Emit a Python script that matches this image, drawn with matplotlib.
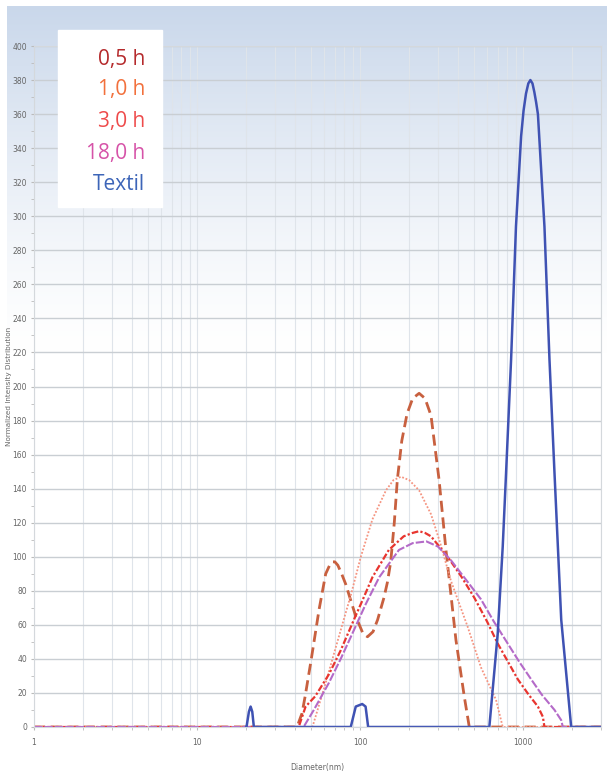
import numpy as np
import matplotlib
matplotlib.use('Agg')
import matplotlib.pyplot as plt
from matplotlib.ticker import MultipleLocator, LogLocator, FixedLocator

# data (diameter in nm, normalized intensity)
d_05 = [1, 41, 44, 46, 50, 56, 61.5, 65, 68, 70, 73, 77, 81.5, 94, 104, 111, 120, 128, 140, 147, 154, 162, 169, 180, 194, 210, 230, 250, 272, 305, 336, 387, 435, 467, 3000]
v_05 = [0, 0, 8, 18, 39, 69, 90, 95, 97, 97, 95, 90, 84, 65, 55, 53, 56, 63, 76, 85, 97, 120, 145, 168, 184, 193, 196, 193, 183, 145, 104, 51, 18, 0, 0]

d_10 = [1, 51, 61.5, 74, 88, 101, 119, 144, 160, 178, 200, 230, 272, 310, 360, 456, 551, 681, 749, 3000]
v_10 = [0, 0, 26, 53, 78, 100, 122, 139, 145, 147, 145, 139, 125, 108, 86, 59, 35, 16, 0, 0]

d_30 = [1, 42, 46.3, 53, 64.4, 76, 89.7, 104, 119, 150, 185, 210, 230, 250, 272, 344, 420, 501, 600, 698, 810, 927, 1080, 1231, 1320, 1350, 3000]
v_30 = [0, 0, 12, 18, 31, 45, 61, 75, 88, 104, 112, 114, 115, 114, 112, 100, 88, 76, 62, 49, 38, 28, 19, 12, 6, 0, 0]

d_180 = [1, 45, 52, 64.4, 76, 89.7, 108, 131, 173, 210, 255, 300, 360, 450, 551, 660, 804, 950, 1119, 1300, 1556, 1711, 1750, 3000]
v_180 = [0, 0, 10, 26, 40, 55, 72, 88, 104, 108, 109, 106, 98, 86, 75, 62, 49, 38, 28, 19, 10, 4, 0, 0]

d_tex = [20, 20.1, 20.8, 21.3, 21.8, 22.3, 87.6, 94, 103, 108, 112, 620, 698, 749, 785, 843, 903, 971, 1005, 1040, 1075, 1107, 1140, 1170, 1200, 1231, 1350, 1449, 1556, 1711, 1969, 3000]
v_tex = [0, 0, 9, 12, 9, 0, 0, 12, 13.5, 12, 0, 0, 55, 106, 149, 216, 294, 347, 362, 372, 378, 380, 378, 373, 367, 360, 294, 216, 149, 63, 0, 0]

labels = ['0,5 h', '1,0 h', '3,0 h', '18,0 h', 'Textil']
label_colors = ['#b52a2c', '#f2703c', '#ee4b4b', '#d653a8', '#3d65b8']

y_ticks = list(range(0, 401, 20))
x_ticks = [1, 10, 100, 1000]

fig = plt.figure(figsize=(6.07, 7.74), dpi=100)

# light blue gradient background
bg = fig.add_axes([7/607, 0, 1 - 7/607, 1 - 6/774])
rows = np.linspace(0, 1, 400)[:, None]
fade = np.clip(1 - rows / 0.45, 0, 1) ** 1.3
top = np.array([0.79, 0.845, 0.92])
grad = 1 - (1 - top) * fade[..., None]
grad = np.repeat(grad, 2, axis=1)
bg.imshow(grad, aspect='auto', extent=[0, 1, 0, 1])
bg.axis('off')

ax = fig.add_axes([34/607, 1 - 727/774, 567/607, 681/774])
ax.set_facecolor('none')

ax.plot(d_05, v_05, color='#c8603f', lw=2.0, ls=(0, (4, 2)))
ax.plot(d_10, v_10, color='#f59480', lw=1.3, ls=(0, (1, 1)))
ax.plot(d_30, v_30, color='#e8352f', lw=1.6, ls=(0, (3, 1, 1, 1)))
ax.plot(d_180, v_180, color='#b46ac8', lw=1.5, ls=(0, (4, 1)))
ax.plot(d_tex, v_tex, color='#3f52b3', lw=1.8)

ax.set_xscale('log')
ax.set_xlim(1, 3000)
ax.set_ylim(0, 400)
ax.yaxis.set_major_locator(FixedLocator(y_ticks))
ax.yaxis.set_minor_locator(MultipleLocator(10))
ax.xaxis.set_major_locator(FixedLocator(x_ticks))
ax.xaxis.set_minor_locator(LogLocator(base=10, subs=np.arange(2, 10)))
ax.set_xticklabels([str(t) for t in x_ticks])
ax.set_yticklabels([str(t) for t in y_ticks])

ax.grid(True, which='major', axis='y', color='#c9ced3', lw=1.0)
ax.grid(True, which='both', axis='x', color='#dfe4ea', lw=0.8)
ax.set_axisbelow(True)

tick_font = ['Liberation Sans Narrow', 'DejaVu Sans']
ax.tick_params(which='both', length=2, color='#bbbbbb', labelsize=5.5,
               labelcolor='#666666', pad=3)
ax.tick_params(axis='x', pad=6)
for lab in ax.get_xticklabels() + ax.get_yticklabels():
    lab.set_family(tick_font)
for s in ax.spines.values():
    s.set_color('#d4d8dc')
    s.set_linewidth(0.8)

ax.set_xlabel('Diameter(nm)', fontsize=5.5, color='#666666', family=tick_font)
ax.set_ylabel('Normalized Intensity Distribution', fontsize=5.2, color='#666666',
              family=tick_font)
ax.xaxis.set_label_coords((317 - 34) / 567, -(763 - 727) / 681)
ax.yaxis.set_label_coords((12 - 34) / 567, (727 - 386) / 681)

# legend box with coloured labels
fig.patches.append(plt.Rectangle((58/607, 1 - 207/774), 104/607, 177/774,
                                 transform=fig.transFigure, color='white', zorder=5))
y_pos = [59, 90, 122, 153, 185]
for lab, col, yp in zip(labels, label_colors, y_pos):
    fig.text(145/607, 1 - yp/774, lab, color=col, fontsize=15, ha='right',
             va='center', family='Open Sans', zorder=6)

fig.savefig('out.png', dpi=100)
